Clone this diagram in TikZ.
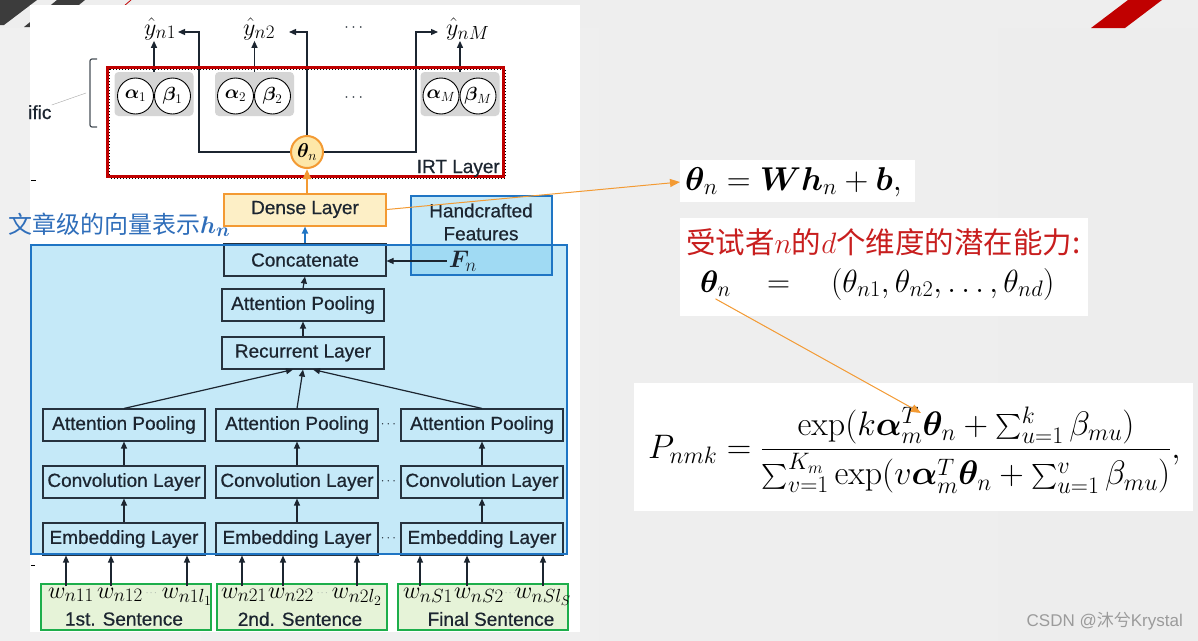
\RequirePackage{fix-cm}
\documentclass[tikz,border=0pt]{standalone}
\usepackage{amsmath}
\usepackage{bm}
\usepackage{fontspec}
\usepackage{tikz}
\usetikzlibrary{arrows.meta}
\newfontfamily\arialfont[FakeBold=0.6]{Liberation Sans}
\newfontfamily\wmfont{Liberation Sans}
\newfontfamily\cjk{Noto Sans CJK SC}
\newcommand{\setpt}[1]{\fontsize{#1}{#1}\selectfont}
\DeclareMathSizes{24}{24}{19}{14}
\definecolor{band}{HTML}{EEEEEE}
\definecolor{slideL}{HTML}{F0F0F0}
\definecolor{slideM}{HTML}{F9F9F9}
\definecolor{slideR}{HTML}{EDEDED}
\definecolor{stripegray}{HTML}{3C3C3C}
\definecolor{irtred}{HTML}{C00000}
\definecolor{capred}{HTML}{C81E1E}
\definecolor{boxline}{HTML}{26323E}
\definecolor{boxtext}{HTML}{1C2530}
\definecolor{blueline}{HTML}{1F75C4}
\definecolor{cyanov}{HTML}{5BC0EB}
\definecolor{cnblue}{HTML}{2F6EBA}
\definecolor{orangeline}{HTML}{F39A33}
\definecolor{densefill}{HTML}{FDEFC6}
\definecolor{thetafill}{HTML}{FDE7A8}
\definecolor{sentgreen}{HTML}{1DAE4B}
\definecolor{sentfill}{HTML}{E6F3D8}
\definecolor{grpgray}{HTML}{D5D5D5}
\definecolor{wmgray}{HTML}{9B9B9B}

\begin{document}
\begin{tikzpicture}[x=1pt, y=-1pt,
    layer/.style={draw=boxline, line width=1.1pt, minimum width=162pt,
      minimum height=32pt, inner sep=0pt, text=boxtext,
      font=\arialfont\setpt{19}},
    denselayer/.style={layer, draw=orangeline, line width=2pt, fill=densefill},
    panel/.style={fill=cyanov, fill opacity=0.35, inner sep=0pt},
    sentbox/.style={draw=sentgreen, line width=2pt, fill=sentfill,
      minimum width=170pt, minimum height=46pt, inner sep=0pt},
    group/.style={fill=grpgray, rounded corners=4pt, minimum width=79pt,
      minimum height=44pt, inner sep=0pt},
    param/.style={circle, draw, line width=0.9pt, fill=white,
      minimum size=36pt, inner sep=0pt, font=\setpt{19}},
    arr/.style={-{Triangle[width=6pt,length=7pt]}, line width=1.2pt, draw=boxtext},
    orarr/.style={-{Triangle[width=8pt,length=10pt]}, line width=1pt, draw=orangeline},
    word/.style={inner sep=1pt, font=\setpt{24}, text=black},
    lbl/.style={inner sep=0pt, font=\arialfont\setpt{19}, text=boxtext},
    gap/.style={inner sep=0pt, font=\setpt{13}, text=boxtext}]

  % slide
  \useasboundingbox (0,0) rectangle (1198,640);
  \fill[band] (0,0) rectangle (1198,28);
  \shade[left color=slideL, middle color=slideM, right color=slideR]
    (0,28) rectangle (1198,640);
  \fill[stripegray] (0,0) -- (37,0) -- (4,25) -- (0,25) -- cycle;
  \fill[stripegray] (57,0) -- (85,0) -- (52,27) -- (24,27) -- cycle;
  \fill[irtred] (1128,0) -- (1162,0) -- (1125,28) -- (1091,28) -- cycle;
  \draw[irtred, line width=0.8pt] (124,6) -- (131,0);
  \fill[white] (30,5) rectangle (580,632);

  % tinted panels
  \node[panel, minimum width=536pt, minimum height=309pt] (enc) at (299,399.5) {};
  \node[panel, minimum width=141pt, minimum height=79pt] (hand) at (481.5,235.5) {};

  % IRT layer
  \draw[line width=1pt, dotted] (109,69) rectangle (505,178);
  \node[group] (g1) at (154,94) {};
  \node[group] (g2) at (254.5,94) {};
  \node[group] (gM) at (460,94) {};
  \node[param] (a1) at (135.5,96) {$\bm{\alpha}_1$};
  \node[param] (b1) at (172.5,96) {$\bm{\beta}_1$};
  \node[param] (a2) at (235.5,96) {$\bm{\alpha}_2$};
  \node[param] (b2) at (272.5,96) {$\bm{\beta}_2$};
  \node[param] (aM) at (441,96) {$\bm{\alpha}_M$};
  \node[param] (bM) at (478,96) {$\bm{\beta}_M$};
  \node[font=\setpt{16}, text=boxtext] (pdots) at (355,98) {$\cdots$};
  \node[circle, draw=orangeline, line width=2pt, fill=thetafill,
    minimum size=32pt, inner sep=0pt, font=\setpt{20}] (theta) at (307,152) {$\bm{\theta}_n$};

  \node[word, anchor=base west] (y1) at (143,35) {$\hat{y}_{n1}$};
  \node[word, anchor=base west] (y2) at (242,35) {$\hat{y}_{n2}$};
  \node[word, anchor=base west] (yM) at (445,35) {$\hat{y}_{nM}$};
  \node[font=\setpt{16}, text=boxtext] (ydots) at (355,28) {$\cdots$};

  \coordinate (lp1) at (199,32);
  \coordinate (lpM) at (416,32);
  \coordinate (tip1) at (178,32);
  \coordinate (tip2) at (289,32);
  \coordinate (tipM) at (438,32);
  \draw[arr] (g1.north) -- (g1.north |- y1.south);
  \draw[arr] (g2.north) -- (g2.north |- y2.south);
  \draw[arr] (gM.north) -- (gM.north |- yM.south);
  \draw[arr] (theta.west) -| (lp1) -- (tip1);
  \draw[arr] (theta.north) -- (theta.north |- lp1) -- (tip2);
  \draw[arr] (theta.east) -| (lpM) -- (tipM);

  \node[draw=irtred, line width=3pt, minimum width=396pt, minimum height=109pt,
    inner sep=0pt] (irt) at (305,121.5) {};
  \node[lbl, anchor=base east] (irtname) at (500,173) {IRT Layer};

  \draw[line width=1.2pt, draw=boxtext!80, rounded corners=2pt]
    (97,59) -- (90,59) -- (90,127) -- (97,127);
  \node[lbl, anchor=base west] (ific) at (28,119) {ific};
  \coordinate (brk) at (86,93);
  \draw[gray!70] (ific.north east) -- (brk);
  \draw[line width=1pt] (31,180) -- (36,180);
  \draw[line width=1pt] (31,565) -- (35,565);

  % encoder
  \node[layer] (concat) at (305,260) {Concatenate};
  \node[layer] (attn) at (303,305) {Attention Pooling};
  \node[layer] (recur) at (303,353) {Recurrent Layer};

  \node[layer] (ap1) at (124,425) {Attention Pooling};
  \node[layer] (ap2) at (297,425) {Attention Pooling};
  \node[layer] (ap3) at (482,425) {Attention Pooling};
  \node[layer] (conv1) at (124,482) {Convolution Layer};
  \node[layer] (conv2) at (297,482) {Convolution Layer};
  \node[layer] (conv3) at (482,482) {Convolution Layer};
  \node[layer] (emb1) at (124,539) {Embedding Layer};
  \node[layer] (emb2) at (297,539) {Embedding Layer};
  \node[layer] (emb3) at (482,539) {Embedding Layer};
  \node[gap] (dap) at (389.5,425) {$\cdots$};
  \node[gap] (dconv) at (389.5,482) {$\cdots$};
  \node[gap] (demb) at (389.5,539) {$\cdots$};

  \draw[arr] (attn.north) -- (concat.south);
  \draw[arr] (recur.north) -- (attn.south);
  \draw[arr] (ap1.north) -- ([xshift=-10pt]recur.south);
  \draw[arr] (ap2.north) -- (recur.south);
  \draw[arr] (ap3.north) -- ([xshift=10pt]recur.south);
  \draw[arr] (conv1.north) -- (ap1.south);
  \draw[arr] (conv2.north) -- (ap2.south);
  \draw[arr] (conv3.north) -- (ap3.south);
  \draw[arr] (emb1.north) -- (conv1.south);
  \draw[arr] (emb2.north) -- (conv2.south);
  \draw[arr] (emb3.north) -- (conv3.south);

  % sentences
  \node[sentbox] (s1) at (125.5,607) {};
  \node[sentbox] (s2) at (302,607) {};
  \node[sentbox] (s3) at (483,607) {};
  \node[lbl] (s1txt) at (124,619) {1st. Sentence};
  \node[lbl] (s2txt) at (300,619) {2nd. Sentence};
  \node[lbl] (s3txt) at (491,619) {Final Sentence};

  \node[word, anchor=base] (w11) at (71,598) {$w_{n11}$};
  \node[word, anchor=base] (w12) at (120,598) {$w_{n12}$};
  \node[word, anchor=base] (w1l) at (187,598) {$w_{n1l_1}$};
  \node[word, anchor=base] (w21) at (244,598) {$w_{n21}$};
  \node[word, anchor=base] (w22) at (291,598) {$w_{n22}$};
  \node[word, anchor=base] (w2l) at (357,598) {$w_{n2l_2}$};
  \node[word, anchor=base] (wS1) at (428,598) {$w_{nS1}$};
  \node[word, anchor=base] (wS2) at (479,598) {$w_{nS2}$};
  \node[word, anchor=base] (wSl) at (543,598) {$w_{nSl_S}$};
  \node[gap, font=\setpt{9}, text=boxtext!60] (wd1) at (152,593) {$\cdots$};
  \node[gap, font=\setpt{9}, text=boxtext!60] (wd2) at (323,593) {$\cdots$};
  \node[gap, font=\setpt{9}, text=boxtext!60] (wd3) at (511,593) {$\cdots$};

  \draw[arr] ([xshift=-5pt]w11.north) -- ([xshift=-5pt]w11.north |- emb1.south);
  \draw[arr] ([xshift=-9pt]w12.north) -- ([xshift=-9pt]w12.north |- emb1.south);
  \draw[arr] (w1l.north) -- (w1l.north |- emb1.south);
  \draw[arr] ([xshift=-2pt]w21.north) -- ([xshift=-2pt]w21.north |- emb2.south);
  \draw[arr] ([xshift=-8pt]w22.north) -- ([xshift=-8pt]w22.north |- emb2.south);
  \draw[arr] (w2l.north) -- (w2l.north |- emb2.south);
  \draw[arr] ([xshift=-8pt]wS1.north) -- ([xshift=-8pt]wS1.north |- emb3.south);
  \draw[arr] ([xshift=-12pt]wS2.north) -- ([xshift=-12pt]wS2.north |- emb3.south);
  \draw[arr] (wSl.north) -- (wSl.north |- emb3.south);

  % panel borders and features
  \draw[blueline, line width=2pt] (enc.north west) rectangle (enc.south east);
  \draw[blueline, line width=2pt] (hand.north west) rectangle (hand.south east);
  \node[lbl, align=center] (handtxt) at (481,222) {Handcrafted\\[4pt]Features};
  \node[font=\setpt{24}, inner sep=2pt, text=boxtext] (fn) at (463,261) {$\bm{F}_n$};
  \draw[arr] (fn.west) -- (fn.west -| concat.east);

  \node[denselayer] (dense) at (305,209.5) {Dense Layer};
  \draw[arr, draw=blueline, line width=2pt] (concat.north) -- (dense.south);
  \draw[orarr, line width=2.5pt] (dense.north -| theta) -- (theta.south);

  \node[anchor=base west, font=\cjk\setpt{24}, text=cnblue, inner sep=0pt]
    (hnote) at (8,233) {文章级的向量表示$\bm{h_n}$};

  % formulas
  \fill[white] (680,160) rectangle (915,202);
  \fill[white] (680,218) rectangle (1088,316);
  \fill[white] (634,383) rectangle (1193,511);

  \node[anchor=base west, font=\setpt{33}, inner sep=2pt] (eqtheta) at (683,190)
    {$\bm{\theta}_n = \bm{W}\bm{h}_n + \bm{b},$};
  \draw[orarr, shorten >=3pt] (dense.east) -- (eqtheta.west);

  \node[anchor=base west, font=\cjk\setpt{29.5}, text=capred, inner sep=0pt]
    (ability) at (686,253) {受试者$n$的$d$个维度的潜在能力:};

  \node[anchor=base west, font=\setpt{31}, inner sep=2pt] (thn) at (698,292) {$\bm{\theta}_n$};
  \node[anchor=base west, font=\setpt{32}, inner sep=2pt] (thvec) at (765,292)
    {$=\quad(\theta_{n1},\theta_{n2},\ldots,\theta_{nd})$};

  \node[anchor=west, font=\setpt{34}, inner sep=0pt] (pnmk) at (648,450)
    {$P_{nmk} = \dfrac{\exp(k\bm{\alpha}_m^T\bm{\theta}_n + \sum_{u=1}^{k}\beta_{mu})}{\sum_{v=1}^{K_m}\exp(v\bm{\alpha}_m^T\bm{\theta}_n + \sum_{u=1}^{v}\beta_{mu})},$};
  \coordinate (alphaT) at (921,413);
  \draw[orarr] (thn.south) -- (alphaT);

  \node[anchor=base east, font=\wmfont\setpt{17}, text=wmgray, inner sep=0pt]
    (wm) at (1183,626) {CSDN @{\cjk 沐兮}Krystal};
\end{tikzpicture}
\end{document}
